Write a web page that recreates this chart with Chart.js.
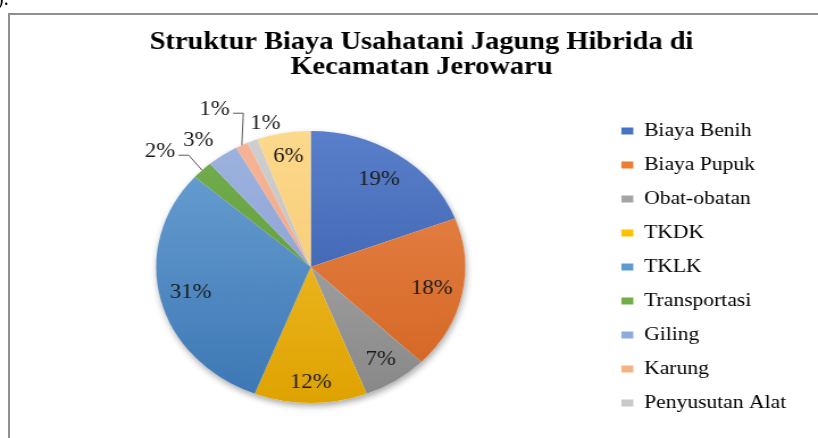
<!DOCTYPE html>
<html>
<head>
<meta charset="utf-8">
<title>Struktur Biaya Usahatani Jagung Hibrida</title>
<script src="https://cdn.jsdelivr.net/npm/chart.js@4.4.1/dist/chart.umd.min.js"></script>
<style>
  html, body { margin: 0; padding: 0; background: #fff; }
  #wrap { position: relative; width: 818px; height: 438px; overflow: hidden; }
  /* the picture is stretched sideways, so the canvas is too */
  #c { position: absolute; left: 0; top: 0; width: 818px !important; height: 438px !important; }
  #frame {
    position: absolute; left: 8px; top: 13px; width: 900px; height: 500px;
    border-left: 2px solid #8f8f8f; border-top: 2px solid #8f8f8f;
    pointer-events: none;
  }
  #mark { position: absolute; left: -3px; top: -13px; font: 20px "Liberation Serif", serif; color: #000; }
</style>
</head>
<body>
<div id="wrap">
  <canvas id="c" width="720" height="438"></canvas>
  <div id="frame"></div>
  <div id="mark">).</div>
</div>
<script>
// kategori biaya (slice terakhir terpotong dari legenda)
const categories = [
  "Biaya Benih",
  "Biaya Pupuk",
  "Obat-obatan",
  "TKDK",
  "TKLK",
  "Transportasi",
  "Giling",
  "Karung",
  "Penyusutan Alat",
  "Lain-lain",
];

// persentase biaya
const shares = [19.2, 18.1, 6.8, 11.8, 30.6, 2.2, 3.3, 1.3, 1.1, 5.6];

const baseColors = [
  "#4472c4", "#ed7d31", "#a5a5a5", "#ffc000", "#5b9bd5",
  "#70ad47", "#8faadc", "#f4b183", "#c9c9c9", "#ffd966",
];
const topColors = [
  "#5a7fca", "#e8884f", "#b3b3b3", "#f6c43c", "#6ca2d4",
  "#74ae4d", "#9db3df", "#f5b597", "#cfcfcf", "#fdd98c",
];
const bottomColors = [
  "#2f57a6", "#d3631f", "#878787", "#dfa300", "#3c77b4",
  "#5a953a", "#8799d0", "#f0a07f", "#bababa", "#f4c466",
];

// where each % label sits: fraction of radius, angle shift (deg), leader line
const labelPlace = [
  { r: 0.78, da: 0 },
  { r: 0.8, da: 0 },
  { r: 0.82, da: 0 },
  { r: 0.85, da: 0 },
  { r: 0.8, da: 0 },
  { r: 1.29, da: -4.5, leader: true },
  { r: 1.18, da: -3.3 },
  { r: 1.31, da: -1.9, leader: true },
  { r: 1.09, da: 6.5 },
  { r: 0.82, da: 0 },
];

const PIE_RADIUS = 136;
const SERIF = '"Liberation Serif", "Times New Roman", serif';

const pieLabels = {
  id: "pieLabels",
  beforeDatasetsDraw(chart) {
    const arc = chart.getDatasetMeta(0).data[0];
    if (!arc) return;
    const ctx = chart.ctx;
    ctx.save();
    ctx.shadowColor = "rgba(0,0,0,0.35)";
    ctx.shadowBlur = 6;
    ctx.shadowOffsetX = 1;
    ctx.shadowOffsetY = 3;
    ctx.fillStyle = "#fff";
    ctx.beginPath();
    ctx.arc(arc.x, arc.y, arc.outerRadius, 0, Math.PI * 2);
    ctx.fill();
    ctx.restore();
  },
  afterDatasetsDraw(chart) {
    const ctx = chart.ctx;
    const meta = chart.getDatasetMeta(0);
    const total = shares.reduce((a, b) => a + b, 0);
    ctx.save();
    ctx.font = "20px " + SERIF;
    ctx.fillStyle = "#1a1a1a";
    ctx.strokeStyle = "#595959";
    ctx.lineWidth = 1;
    ctx.textAlign = "center";
    ctx.textBaseline = "middle";
    meta.data.forEach((arc, i) => {
      const p = labelPlace[i];
      const mid = (arc.startAngle + arc.endAngle) / 2;
      const a = mid + (p.da * Math.PI) / 180;
      const r = arc.outerRadius * p.r;
      const x = arc.x + Math.cos(a) * r;
      const y = arc.y + Math.sin(a) * r;
      const txt = Math.round((shares[i] / total) * 100) + "%";
      ctx.fillText(txt, x, y);
      if (p.leader) {
        const w = ctx.measureText(txt).width;
        const sx = x + w / 2 + 3;
        const sy = y + 3;
        const ex = arc.x + Math.cos(mid) * arc.outerRadius;
        const ey = arc.y + Math.sin(mid) * arc.outerRadius;
        ctx.beginPath();
        ctx.moveTo(sx, sy);
        ctx.lineTo(sx + 9, sy);
        ctx.lineTo(ex, ey);
        ctx.stroke();
      }
    });
    ctx.restore();
  },
};

const sliceFill = (c) => {
  const i = c.dataIndex;
  const area = c.chart.chartArea;
  if (!area) return baseColors[i];
  const cy = (area.top + area.bottom) / 2;
  const g = c.chart.ctx.createLinearGradient(0, cy - PIE_RADIUS, 0, cy + PIE_RADIUS);
  g.addColorStop(0, topColors[i]);
  g.addColorStop(1, bottomColors[i]);
  return g;
};

// the original frame runs past the right edge, so the title sits a bit right of the canvas middle
const TITLE_INDENT = "    ";

new Chart(document.getElementById("c"), {
  type: "pie",
  data: {
    labels: categories,
    datasets: [
      {
        data: shares,
        backgroundColor: sliceFill,
        borderWidth: 0,
        radius: PIE_RADIUS,
      },
    ],
  },
  plugins: [pieLabels],
  options: {
    responsive: false,
    animation: false,
    devicePixelRatio: 1,
    events: [],
    layout: { padding: { left: 15, right: 18, top: 0, bottom: 0 } },
    plugins: {
      title: {
        display: true,
        text: [
          TITLE_INDENT + "Struktur Biaya Usahatani Jagung Hibrida di",
          TITLE_INDENT + "Kecamatan Jerowaru",
        ],
        color: "#000",
        font: { family: SERIF, size: 25, weight: "bold", lineHeight: 1.0 },
        padding: { top: 30, bottom: 16 },
      },
      legend: {
        position: "right",
        fullSize: false,
        align: "center",
        labels: {
          boxWidth: 10.5,
          boxHeight: 7,
          padding: 15,
          color: "#000",
          font: { family: SERIF, size: 19 },
          generateLabels: (chart) =>
            chart.data.labels.map((label, i) => ({
              text: label,
              fillStyle: baseColors[i],
              strokeStyle: baseColors[i],
              lineWidth: 0,
              hidden: false,
              index: i,
            })),
          filter: (item) => item.index < 9,
        },
      },
      tooltip: { enabled: false },
    },
  },
});
</script>
</body>
</html>
